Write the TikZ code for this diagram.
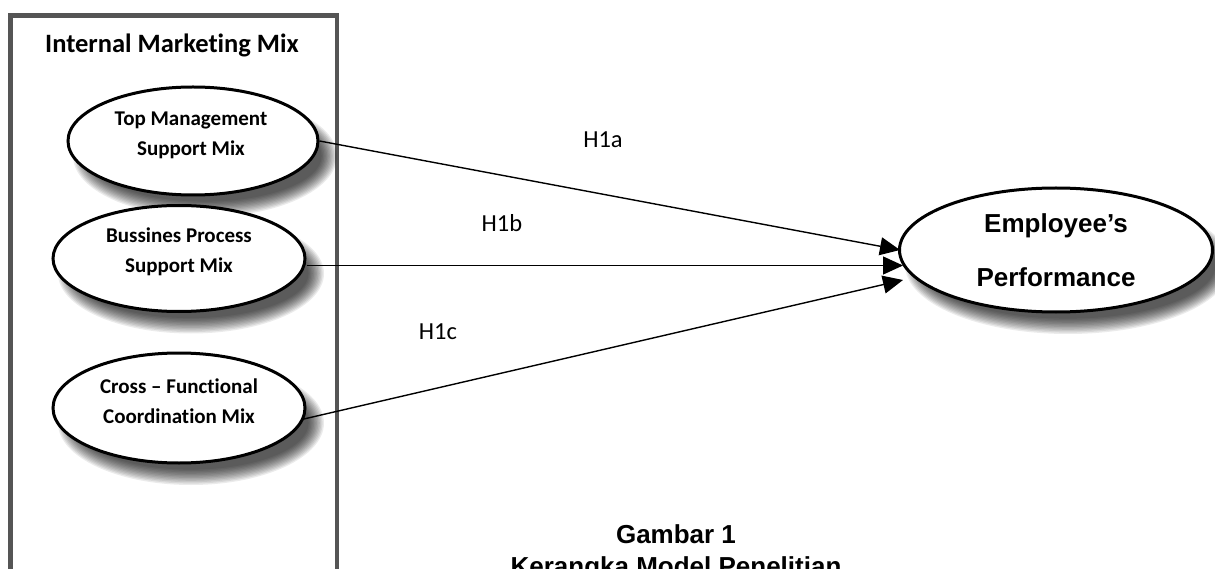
\documentclass[tikz,border=0pt]{standalone}
\usepackage{fontspec}
\setmainfont{Carlito}[Ligatures=NoCommon]
\newfontfamily\arialf{Liberation Sans}
\usetikzlibrary{shapes.geometric,arrows.meta}
\definecolor{boxgray}{RGB}{85,85,85}
% soft shadow: centre x, centre y, x radius, y radius
\newcommand{\softshade}[4]{%
  \foreach \k in {0,...,11}{%
    \fill[black, opacity=0.08] (#1+12,#2+15) ellipse ({#3+7-1.4*\k} and {#4+7-1.4*\k});
  }}
\begin{document}
\begin{tikzpicture}[x=1pt,y=-1pt,
  oval/.style={ellipse, draw=black, line width=3pt, fill=white, inner sep=0pt},
  lbl/.style={font=\bfseries\fontsize{21}{30}\selectfont, align=center, inner sep=0pt},
  hyp/.style={font=\fontsize{24.5}{28}\selectfont, inner sep=0pt},
  captext/.style={font=\arialf\bfseries\fontsize{26}{30}\selectfont, anchor=base, inner sep=0pt},
  conn/.style={line width=1.4pt, -{Triangle[length=20pt,width=18pt]}}]
\useasboundingbox (0,0) rectangle (1215,569);
\fill[white] (0,0) rectangle (1215,569);
% container box (open at bottom)
\draw[line width=4.5pt, draw=boxgray] (10.5,600) -- (10.5,15.5) -- (337,15.5) -- (337,600);
\node[font=\bfseries\fontsize{26.5}{30}\selectfont, inner sep=0pt] (title) at (172,45) {Internal Marketing Mix};
% shadows
\softshade{193}{141}{125}{54}
\softshade{179}{258.5}{126}{53}
\softshade{179}{408}{126}{55}
\softshade{1056}{250}{156}{62}
% ellipses
\node[oval, minimum width=250pt, minimum height=108pt] (e1) at (193,141) {};
\node[oval, minimum width=252pt, minimum height=106pt] (e2) at (179,258.5) {};
\node[oval, minimum width=252pt, minimum height=110pt] (e3) at (179,408) {};
\node[oval, minimum width=313pt, minimum height=124pt,
      font=\arialf\bfseries\fontsize{26}{54}\selectfont, align=center] (emp) at (1056,250) {Employee’s\\Performance};
\node[lbl] (t1) at (191,135) {Top Management\\Support Mix};
\node[lbl] (t2) at (179,252) {Bussines Process\\Support Mix};
\node[lbl] (t3) at (179,401) {Cross – Functional\\Coordination Mix};
% arrow end points
\coordinate (p1) at (900,250);
\coordinate (p2) at (903,265.5);
\coordinate (p3) at (903,280);
\draw[conn] (e1.east) -- (p1);
\draw[conn] (e2.east |- p2) -- (p2);
\draw[conn] (e3.-5) -- (p3);
% hypothesis labels
\node[hyp] (h1a) at (603,140) {H1a};
\node[hyp] (h1b) at (502,223) {H1b};
\node[hyp] (h1c) at (438,332) {H1c};
% caption (cut by the page edge, as in the reference)
\node[captext] (cap1) at (676,543) {Gambar 1};
\node[captext] (cap2) at (676,575) {Kerangka Model Penelitian};
\end{tikzpicture}
\end{document}
